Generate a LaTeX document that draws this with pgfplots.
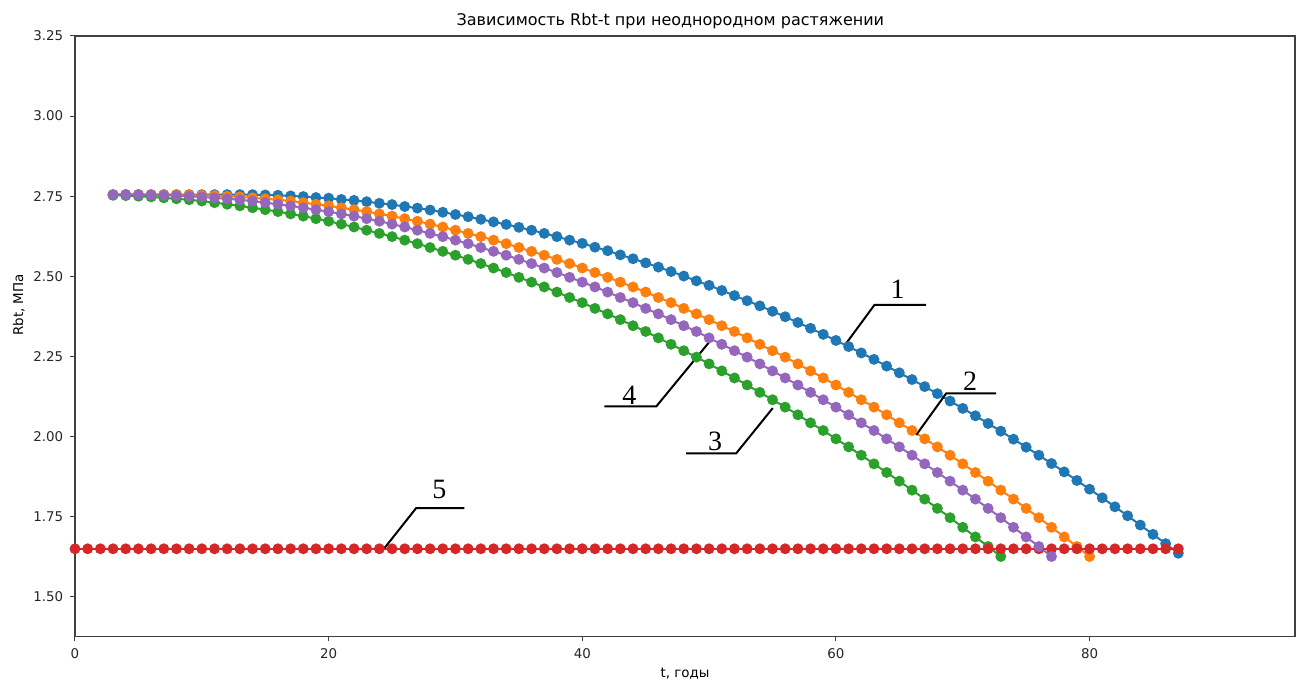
\documentclass[border=0pt]{standalone}
\usepackage{fontspec}
\setmainfont{DejaVu Sans}
\newfontfamily\numfont{Liberation Serif}
\usepackage{pgfplots}
\pgfplotsset{compat=1.18}
\usetikzlibrary{calc}
\definecolor{c0}{HTML}{1F77B4}
\definecolor{c1}{HTML}{FF7F0E}
\definecolor{c2}{HTML}{2CA02C}
\definecolor{c3}{HTML}{D62728}
\definecolor{c4}{HTML}{9467BD}
\pgfplotsset{
  curve/.style={#1, line width=1pt, mark=*, mark size=2.2pt,
    mark options={solid, fill=#1, draw=#1}},
}
\begin{document}
\begin{tikzpicture}
\begin{axis}[
  name=main,
  scale only axis,
  width=610pt, height=300.3pt,
  xmin=0, xmax=96.2,
  ymin=1.376, ymax=3.25,
  xtick={0,20,40,60,80},
  ytick={1.5,1.75,2.0,2.25,2.5,2.75,3.0,3.25},
  /pgf/number format/assume math mode=true,
  yticklabel style={/pgf/number format/fixed, /pgf/number format/fixed zerofill,
    /pgf/number format/precision=2},
  tick label style={font=\fontsize{6.7}{8}\selectfont, color=black!85},
  tick align=outside, tick pos=left,
  major tick length=2.4pt,
  axis line style={black!75, line width=0.6pt},
  every tick/.style={black!75, line width=0.5pt},
  every axis title shift=0pt,
  title={Зависимость Rbt-t при неоднородном растяжении},
  title style={font=\fontsize{8}{9.6}\selectfont, at={(0.488,1)}, anchor=base, yshift=5pt},
  xlabel={t, годы},
  xlabel style={font=\fontsize{6.7}{8}\selectfont, at={(axis description cs:0.5,0)}, anchor=base, yshift=-20.5pt},
  ylabel={Rbt, МПа},
  ylabel style={font=\fontsize{6.7}{8}\selectfont, at={(axis description cs:-0.046,0.552)}, anchor=center},
]

% 1
\addplot[curve=c0] coordinates {
(3,2.755)(4,2.755)(5,2.755)(6,2.755)(7,2.755)(8,2.755)(9,2.755)(10,2.755)(11,2.755)(12,2.755)
(13,2.755)(14,2.755)(15,2.754)(16,2.753)(17,2.751)(18,2.749)(19,2.746)(20,2.744)(21,2.740)(22,2.737)
(23,2.733)(24,2.728)(25,2.724)(26,2.718)(27,2.713)(28,2.707)(29,2.700)(30,2.693)(31,2.686)(32,2.678)
(33,2.670)(34,2.662)(35,2.653)(36,2.644)(37,2.634)(38,2.624)(39,2.613)(40,2.603)(41,2.591)(42,2.580)
(43,2.567)(44,2.555)(45,2.542)(46,2.529)(47,2.515)(48,2.501)(49,2.486)(50,2.472)(51,2.456)(52,2.440)
(53,2.424)(54,2.408)(55,2.391)(56,2.374)(57,2.356)(58,2.338)(59,2.319)(60,2.300)(61,2.281)(62,2.261)
(63,2.241)(64,2.220)(65,2.199)(66,2.178)(67,2.156)(68,2.134)(69,2.111)(70,2.088)(71,2.065)(72,2.041)
(73,2.017)(74,1.992)(75,1.967)(76,1.942)(77,1.916)(78,1.890)(79,1.863)(80,1.836)(81,1.809)(82,1.781)
(83,1.753)(84,1.724)(85,1.695)(86,1.666)(87,1.636)
};

% 2
\addplot[curve=c1] coordinates {
(3,2.755)(4,2.755)(5,2.755)(6,2.755)(7,2.755)(8,2.755)(9,2.754)(10,2.753)(11,2.752)(12,2.750)
(13,2.748)(14,2.745)(15,2.742)(16,2.739)(17,2.735)(18,2.730)(19,2.725)(20,2.720)(21,2.714)(22,2.708)
(23,2.702)(24,2.695)(25,2.688)(26,2.680)(27,2.672)(28,2.663)(29,2.654)(30,2.644)(31,2.634)(32,2.624)
(33,2.613)(34,2.602)(35,2.590)(36,2.578)(37,2.566)(38,2.553)(39,2.540)(40,2.526)(41,2.512)(42,2.497)
(43,2.482)(44,2.467)(45,2.451)(46,2.434)(47,2.418)(48,2.400)(49,2.383)(50,2.365)(51,2.346)(52,2.328)
(53,2.308)(54,2.288)(55,2.268)(56,2.248)(57,2.227)(58,2.205)(59,2.183)(60,2.161)(61,2.138)(62,2.115)
(63,2.092)(64,2.068)(65,2.043)(66,2.019)(67,1.993)(68,1.968)(69,1.942)(70,1.915)(71,1.888)(72,1.861)
(73,1.833)(74,1.805)(75,1.776)(76,1.747)(77,1.717)(78,1.687)(79,1.657)(80,1.626)
};

% 3
\addplot[curve=c2] coordinates {
(3,2.753)(4,2.752)(5,2.750)(6,2.748)(7,2.745)(8,2.742)(9,2.739)(10,2.735)(11,2.730)(12,2.725)
(13,2.720)(14,2.714)(15,2.708)(16,2.702)(17,2.695)(18,2.688)(19,2.680)(20,2.672)(21,2.663)(22,2.654)
(23,2.644)(24,2.634)(25,2.624)(26,2.613)(27,2.602)(28,2.590)(29,2.578)(30,2.566)(31,2.553)(32,2.540)
(33,2.526)(34,2.512)(35,2.497)(36,2.482)(37,2.467)(38,2.451)(39,2.434)(40,2.418)(41,2.400)(42,2.383)
(43,2.365)(44,2.346)(45,2.328)(46,2.308)(47,2.288)(48,2.268)(49,2.248)(50,2.227)(51,2.205)(52,2.183)
(53,2.161)(54,2.138)(55,2.115)(56,2.092)(57,2.068)(58,2.043)(59,2.019)(60,1.993)(61,1.968)(62,1.942)
(63,1.915)(64,1.888)(65,1.861)(66,1.833)(67,1.805)(68,1.776)(69,1.747)(70,1.717)(71,1.687)(72,1.657)
(73,1.626)
};

% 5
\addplot[curve=c3] coordinates {
(0,1.65)(1,1.65)(2,1.65)(3,1.65)(4,1.65)(5,1.65)(6,1.65)(7,1.65)(8,1.65)(9,1.65)
(10,1.65)(11,1.65)(12,1.65)(13,1.65)(14,1.65)(15,1.65)(16,1.65)(17,1.65)(18,1.65)(19,1.65)
(20,1.65)(21,1.65)(22,1.65)(23,1.65)(24,1.65)(25,1.65)(26,1.65)(27,1.65)(28,1.65)(29,1.65)
(30,1.65)(31,1.65)(32,1.65)(33,1.65)(34,1.65)(35,1.65)(36,1.65)(37,1.65)(38,1.65)(39,1.65)
(40,1.65)(41,1.65)(42,1.65)(43,1.65)(44,1.65)(45,1.65)(46,1.65)(47,1.65)(48,1.65)(49,1.65)
(50,1.65)(51,1.65)(52,1.65)(53,1.65)(54,1.65)(55,1.65)(56,1.65)(57,1.65)(58,1.65)(59,1.65)
(60,1.65)(61,1.65)(62,1.65)(63,1.65)(64,1.65)(65,1.65)(66,1.65)(67,1.65)(68,1.65)(69,1.65)
(70,1.65)(71,1.65)(72,1.65)(73,1.65)(74,1.65)(75,1.65)(76,1.65)(77,1.65)(78,1.65)(79,1.65)
(80,1.65)(81,1.65)(82,1.65)(83,1.65)(84,1.65)(85,1.65)(86,1.65)(87,1.65)
};

% 4
\addplot[curve=c4] coordinates {
(3,2.755)(4,2.755)(5,2.755)(6,2.754)(7,2.753)(8,2.752)(9,2.750)(10,2.748)(11,2.745)(12,2.742)
(13,2.739)(14,2.735)(15,2.730)(16,2.725)(17,2.720)(18,2.714)(19,2.708)(20,2.702)(21,2.695)(22,2.688)
(23,2.680)(24,2.672)(25,2.663)(26,2.654)(27,2.644)(28,2.634)(29,2.624)(30,2.613)(31,2.602)(32,2.590)
(33,2.578)(34,2.566)(35,2.553)(36,2.540)(37,2.526)(38,2.512)(39,2.497)(40,2.482)(41,2.467)(42,2.451)
(43,2.434)(44,2.418)(45,2.400)(46,2.383)(47,2.365)(48,2.346)(49,2.328)(50,2.308)(51,2.288)(52,2.268)
(53,2.248)(54,2.227)(55,2.205)(56,2.183)(57,2.161)(58,2.138)(59,2.115)(60,2.092)(61,2.068)(62,2.043)
(63,2.019)(64,1.993)(65,1.968)(66,1.942)(67,1.915)(68,1.888)(69,1.861)(70,1.833)(71,1.805)(72,1.776)
(73,1.747)(74,1.717)(75,1.687)(76,1.657)(77,1.626)
};

% leader lines and curve numbers
\draw[black, line width=1pt] (axis cs:60.81,2.291) -- (axis cs:63.04,2.411) -- (axis cs:67.12,2.411);
\draw[black, line width=1pt] (axis cs:66.33,2.005) -- (axis cs:68.70,2.135) -- (axis cs:72.64,2.135);
\draw[black, line width=1pt] (axis cs:55.02,2.089) -- (axis cs:52.14,1.948) -- (axis cs:48.19,1.948);
\draw[black, line width=1pt] (axis cs:50.03,2.296) -- (axis cs:45.83,2.094) -- (axis cs:41.75,2.094);
\draw[black, line width=1pt] (axis cs:24.40,1.652) -- (axis cs:26.90,1.777) -- (axis cs:30.71,1.777);
\node[font=\numfont\fontsize{14}{14}\selectfont] at (axis cs:64.86,2.461) {1};
\node[font=\numfont\fontsize{14}{14}\selectfont] at (axis cs:70.58,2.172) {2};
\node[font=\numfont\fontsize{14}{14}\selectfont] at (axis cs:50.48,1.984) {3};
\node[font=\numfont\fontsize{14}{14}\selectfont] at (axis cs:43.72,2.130) {4};
\node[font=\numfont\fontsize{14}{14}\selectfont] at (axis cs:28.74,1.834) {5};
\end{axis}
\pgfresetboundingbox
\path ($(main.south west)+(-37.5pt,-21.2pt)$) rectangle ($(main.north east)+(2pt,18pt)$);
\end{tikzpicture}
\end{document}
